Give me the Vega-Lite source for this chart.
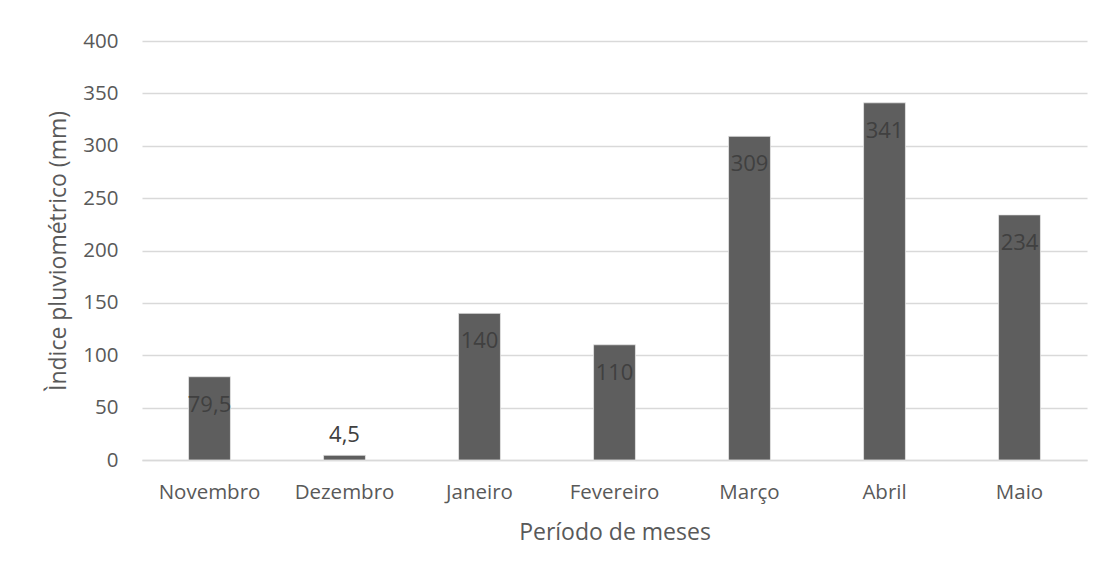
{
  "$schema": "https://vega.github.io/schema/vega-lite/v6.json",
  "autosize": {"type": "none"},
  "width": 945,
  "height": 419,
  "padding": {"left": 142, "top": 41, "right": 16, "bottom": 112},
  "background": "#ffffff",
  "config": {
    "font": "Open Sans",
    "view": {"stroke": null},
    "axis": {"labelFont": "Open Sans", "titleFont": "Open Sans", "labelColor": "#595959", "titleColor": "#595959", "titleFontWeight": "normal", "labelFontSize": 20.5, "titleFontSize": 23}
  },
  "data": {
    "values": [
      {"mes": "Novembro", "valor": 79.5, "rotulo": "79,5"},
      {"mes": "Dezembro", "valor": 4.5, "rotulo": "4,5"},
      {"mes": "Janeiro", "valor": 140, "rotulo": "140"},
      {"mes": "Fevereiro", "valor": 110, "rotulo": "110"},
      {"mes": "Março", "valor": 309, "rotulo": "309"},
      {"mes": "Abril", "valor": 341, "rotulo": "341"},
      {"mes": "Maio", "valor": 234, "rotulo": "234"}
    ]
  },
  "encoding": {
    "x": {
      "field": "mes", "type": "nominal", "sort": null,
      "scale": {"paddingInner": 0.69, "paddingOuter": 0.345},
      "axis": {"title": "Período de meses", "labelAngle": 0, "ticks": false, "domainColor": "#d9d9d9", "domainWidth": 1.5, "labelPadding": 22, "titlePadding": 19}
    },
    "y": {
      "field": "valor", "type": "quantitative",
      "scale": {"domain": [0, 400], "nice": false},
      "axis": {"title": "Ìndice pluviométrico (mm)", "values": [0, 50, 100, 150, 200, 250, 300, 350, 400], "domain": false, "ticks": false, "gridColor": "#d9d9d9", "gridWidth": 1.5, "labelPadding": 24, "titlePadding": 12}
    }
  },
  "layer": [
    {"mark": {"type": "bar", "color": "#5e5e5e", "stroke": "#e8e8e8", "strokeWidth": 0.75}},
    {
      "transform": [{"filter": "datum.valor >= 20"}],
      "mark": {"type": "text", "baseline": "middle", "dy": 28, "fontSize": 22, "color": "#404040"},
      "encoding": {"text": {"field": "rotulo"}}
    },
    {
      "transform": [{"filter": "datum.valor < 20"}],
      "mark": {"type": "text", "baseline": "middle", "dy": -20, "fontSize": 22, "color": "#404040"},
      "encoding": {"text": {"field": "rotulo"}}
    }
  ]
}
